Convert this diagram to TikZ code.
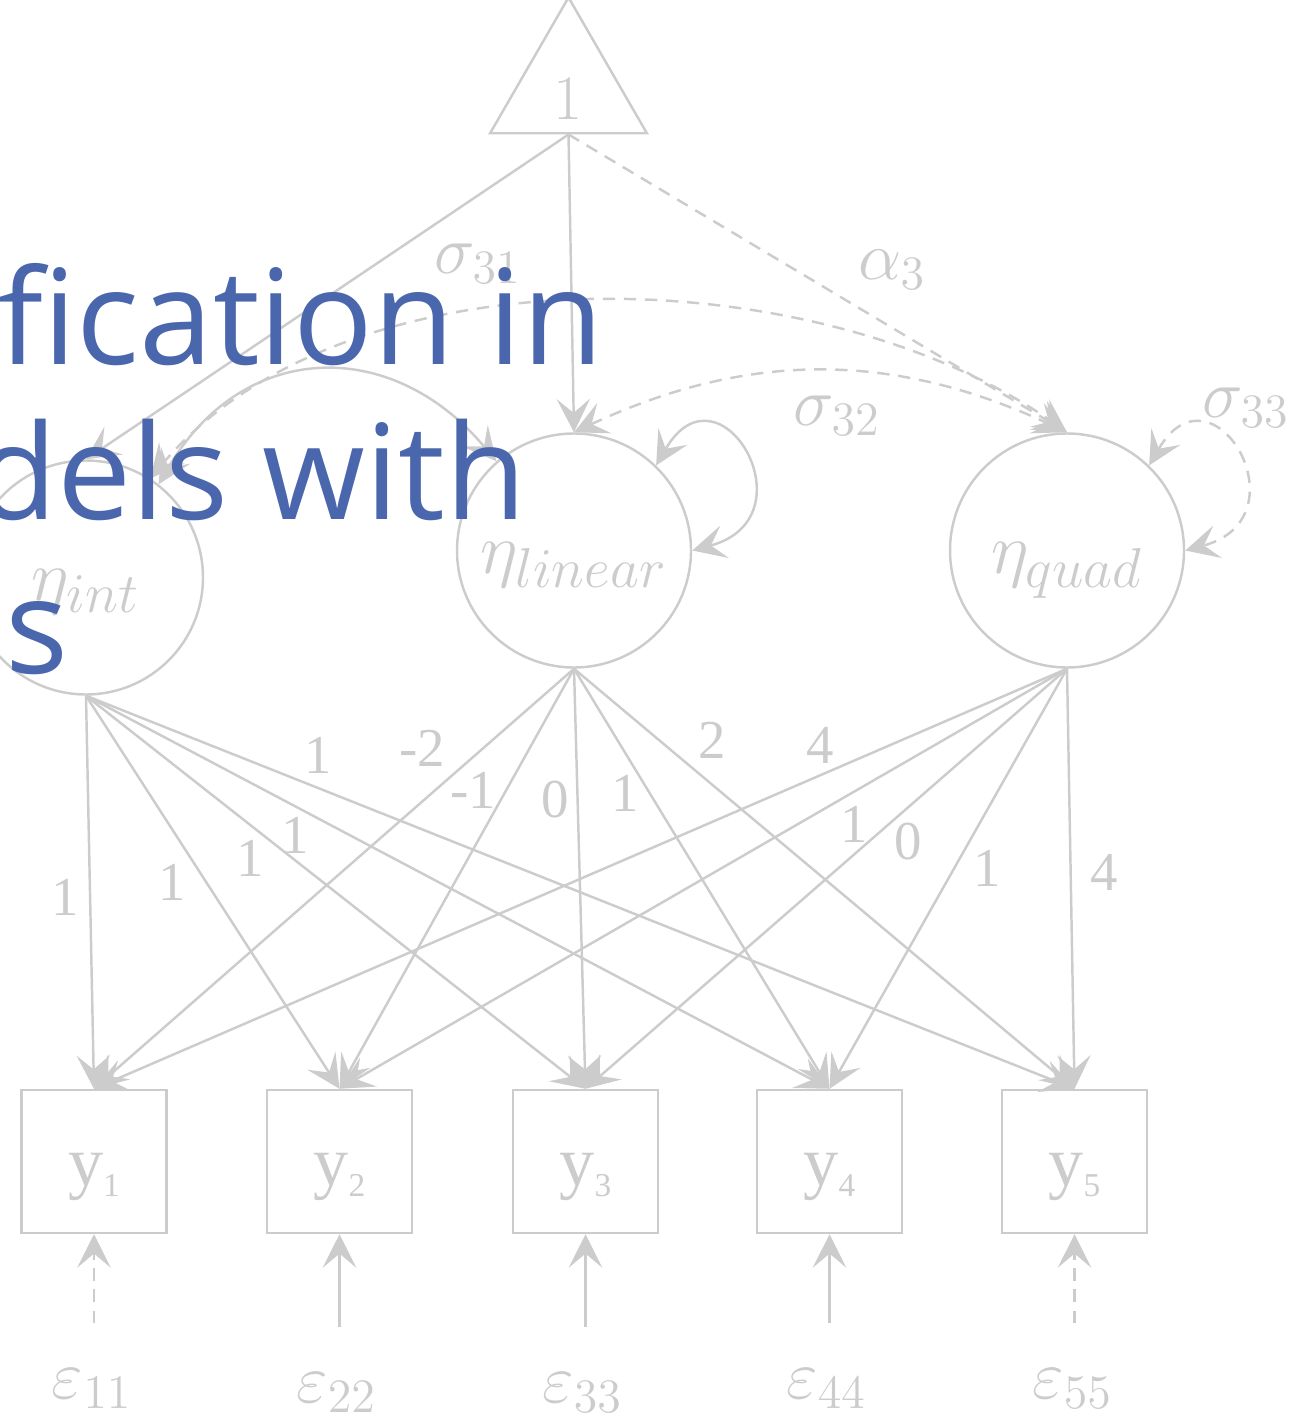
\documentclass[tikz,border=0pt]{standalone}
\usepackage{fix-cm}
\usepackage{fontspec}
\usepackage{tikz}
\usetikzlibrary{positioning}
\usetikzlibrary{arrows.meta}
\usetikzlibrary{shapes.geometric}

\newfontfamily\timesfont{Liberation Serif}
\newfontfamily\titlefont{Open Sans}

\definecolor{diagray}{RGB}{204,204,204}
\definecolor{titleblue}{RGB}{74,102,172}

\newcommand{\etalat}[1]{$\eta_{\mbox{\fontsize{16}{16}\selectfont$#1$}}$}
\newcommand{\obsvar}[1]{y\raisebox{-3.4pt}{\fontsize{9.5}{9.5}\selectfont #1}}

\begin{document}
\begin{tikzpicture}
			\tikzset{
				latent/.style={circle, draw=diagray, line width=0.7pt, minimum size=2.34cm, inner sep=0pt, text=diagray, font=\fontsize{20.5}{20.5}\selectfont, text height=0.46cm, text depth=0pt},
				manifest/.style={rectangle, draw=diagray, line width=0.7pt, minimum width=1.45cm, minimum height=1.43cm, inner sep=0pt, text=diagray, font=\timesfont\fontsize{20}{20}\selectfont, text height=0.47cm, text depth=0pt},
				const/.style={regular polygon, regular polygon sides=3, draw=diagray, line width=0.7pt, minimum size=1.76cm, inner sep=0pt, text=diagray, font=\fontsize{18}{18}\selectfont, text height=0.64cm, text depth=0pt},
				arr/.style={draw=diagray, line width=0.7pt, -{Stealth[length=9.5pt,width=9.5pt,inset=4pt]}},
				dbl/.style={draw=diagray, line width=0.7pt, {Stealth[length=9.5pt,width=9.5pt,inset=4pt]}-{Stealth[length=9.5pt,width=9.5pt,inset=4pt]}},
				dashedge/.style={dash pattern=on 3.5pt off 2.5pt},
				wt/.style={text=diagray, font=\timesfont\fontsize{15.6}{15.6}\selectfont, inner sep=0pt},
				parlbl/.style={text=diagray, font=\fontsize{19.5}{19.5}\selectfont, inner sep=0pt},
				titletext/.style={text=titleblue, font=\titlefont\fontsize{37.6}{37.6}\selectfont, inner sep=0pt, anchor=base west}
			}
			\useasboundingbox (0,0) rectangle (12.96,-14.21);

			% constant and latent growth factors
			\node[const] (one) at (5.685,-0.88) {1};
			\node[latent] (eint) at (0.86,-5.775) {\etalat{int}};
			\node[latent] (elin) at (5.74,-5.505) {\etalat{linear}};
			\node[latent] (equad) at (10.67,-5.505) {\etalat{quad}};

			% observed variables
			\node[manifest] (y1) at (0.94,-11.615) {\obsvar{1}};
			\node[manifest] (y2) at (3.395,-11.615) {\obsvar{2}};
			\node[manifest] (y3) at (5.855,-11.615) {\obsvar{3}};
			\node[manifest] (y4) at (8.295,-11.615) {\obsvar{4}};
			\node[manifest] (y5) at (10.745,-11.615) {\obsvar{5}};

			% residuals
			\node[parlbl, anchor=base] (e11) at (0.92,-13.98) {$\varepsilon_{11}$};
			\node[parlbl, anchor=base] (e22) at (3.365,-14.02) {$\varepsilon_{22}$};
			\node[parlbl, anchor=base] (e33) at (5.825,-14.02) {$\varepsilon_{33}$};
			\node[parlbl, anchor=base] (e44) at (8.265,-13.98) {$\varepsilon_{44}$};
			\node[parlbl, anchor=base] (e55) at (10.725,-13.98) {$\varepsilon_{55}$};
			\draw[arr, dashedge, shorten <=0.45cm] (e11.north -| y1.south) -- (y1.south);
			\draw[arr, shorten <=0.45cm] (e22.north -| y2.south) -- (y2.south);
			\draw[arr, shorten <=0.45cm] (e33.north -| y3.south) -- (y3.south);
			\draw[arr, shorten <=0.45cm] (e44.north -| y4.south) -- (y4.south);
			\draw[arr, dashedge, shorten <=0.45cm] (e55.north -| y5.south) -- (y5.south);

			% means
			\draw[arr] (one.south) -- (eint.north);
			\draw[arr] (one.south) -- (elin.north);
			\draw[arr, dashedge] (one.south) -- (equad.north);
			\node[parlbl] (alpha3) at (8.92,-2.70) {$\alpha_3$};

			% (co)variances
			\draw[dbl] (eint.52) to[out=60, in=130, looseness=1.25] (elin.131);
			\draw[dbl, dashedge] (eint.57) to[out=50, in=145, looseness=0.85] (equad.north);
			\draw[dbl, dashedge] (elin.north) to[out=25, in=155] (equad.north);
			\draw[dbl] (elin.46) to[out=60, in=15, looseness=3.5] (elin.0);
			\draw[dbl, dashedge] (equad.46) to[out=60, in=15, looseness=3.5] (equad.0);
			\node[parlbl] (s31) at (4.78,-2.64) {$\sigma_{31}$};
			\node[parlbl] (s32) at (8.37,-4.16) {$\sigma_{32}$};
			\node[parlbl] (s33) at (12.46,-4.08) {$\sigma_{33}$};

			% intercept loadings
			\draw[arr] (eint.south) -- (y1.north);
			\draw[arr] (eint.south) -- (y2.north);
			\draw[arr] (eint.south) -- (y3.north);
			\draw[arr] (eint.south) -- (y4.north);
			\draw[arr] (eint.south) -- (y5.north);
			\node[wt] (li1) at (0.65,-8.97) {1};
			\node[wt] (li2) at (1.72,-8.82) {1};
			\node[wt] (li3) at (2.50,-8.58) {1};
			\node[wt] (li4) at (2.95,-8.35) {1};
			\node[wt] (li5) at (3.18,-7.55) {1};

			% linear loadings
			\draw[arr] (elin.south) -- (y1.north);
			\draw[arr] (elin.south) -- (y2.north);
			\draw[arr] (elin.south) -- (y3.north);
			\draw[arr] (elin.south) -- (y4.north);
			\draw[arr] (elin.south) -- (y5.north);
			\node[wt] (ll1) at (4.22,-7.48) {-2};
			\node[wt] (ll2) at (4.73,-7.90) {-1};
			\node[wt] (ll3) at (5.55,-8.00) {0};
			\node[wt] (ll4) at (6.25,-7.93) {1};
			\node[wt] (ll5) at (7.12,-7.40) {2};

			% quadratic loadings
			\draw[arr] (equad.south) -- (y1.north);
			\draw[arr] (equad.south) -- (y2.north);
			\draw[arr] (equad.south) -- (y3.north);
			\draw[arr] (equad.south) -- (y4.north);
			\draw[arr] (equad.south) -- (y5.north);
			\node[wt] (lq1) at (8.20,-7.45) {4};
			\node[wt] (lq2) at (8.54,-8.24) {1};
			\node[wt] (lq3) at (9.08,-8.42) {0};
			\node[wt] (lq4) at (9.87,-8.68) {1};
			\node[wt] (lq5) at (11.04,-8.72) {4};

			% slide title on top
			\node[titletext] (title1) at (-0.02,-3.65) {fication in};
			\node[titletext] (title2) at (-0.24,-5.20) {dels with};
			\node[titletext] (title3) at (-0.69,-6.73) {es};
		\end{tikzpicture}
\end{document}
